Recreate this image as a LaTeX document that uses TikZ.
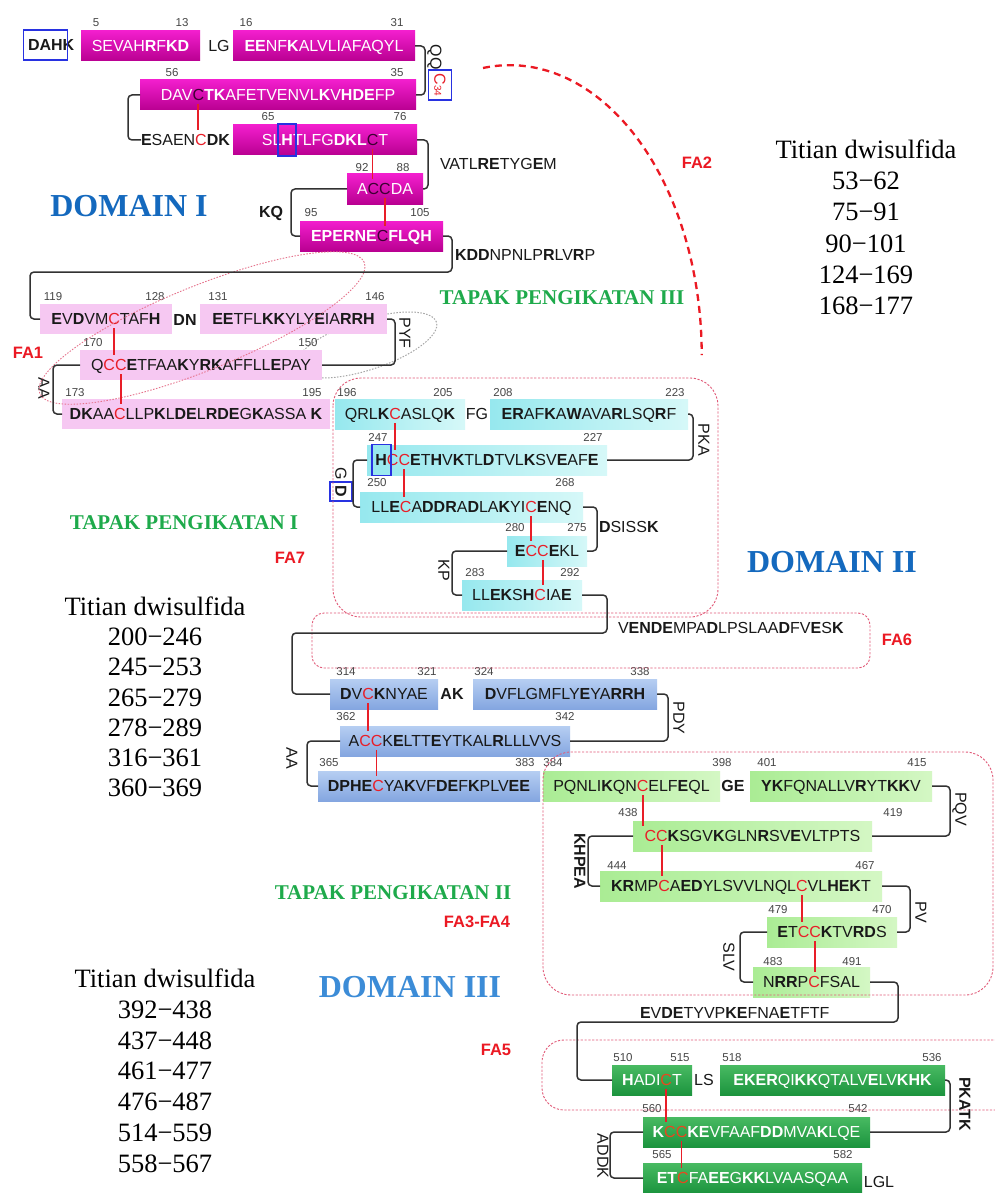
\documentclass[tikz,border=0pt]{standalone}
\usepackage{fontspec}
\setmainfont{Liberation Serif}
\setsansfont{Liberation Sans}
\usetikzlibrary{calc}
\definecolor{magT}{RGB}{242,30,205}
\definecolor{magB}{RGB}{185,0,145}
\definecolor{pinkF}{RGB}{246,200,242}
\definecolor{cyL}{RGB}{150,232,238}
\definecolor{cyR}{RGB}{214,248,248}
\definecolor{blT}{RGB}{182,206,242}
\definecolor{blB}{RGB}{132,166,224}
\definecolor{lgL}{RGB}{170,236,148}
\definecolor{lgR}{RGB}{212,247,196}
\definecolor{dgT}{RGB}{72,186,98}
\definecolor{dgB}{RGB}{28,148,62}
\definecolor{cred}{RGB}{232,30,40}
\definecolor{cdark}{RGB}{60,0,50}
\definecolor{corg}{RGB}{235,70,30}
\definecolor{connc}{RGB}{50,50,50}
\definecolor{numc}{RGB}{70,70,70}
\definecolor{hblue}{RGB}{40,50,225}
\definecolor{domc}{RGB}{20,105,190}
\definecolor{domcc}{RGB}{60,140,215}
\definecolor{tapc}{RGB}{30,170,75}
\definecolor{fac}{RGB}{235,25,35}
\definecolor{dashc}{RGB}{225,90,120}
\definecolor{seqc}{RGB}{25,25,25}
\newcommand\seqf{\sffamily\fontsize{16}{16}\selectfont}
\newcommand\bo[1]{\textbf{#1}}
\newcommand\Cr{\textcolor{cred}{C}}
\newcommand\Ck{\textcolor{cdark}{C}}
\newcommand\Co{\textcolor{corg}{C}}
\newlength\wfull\newlength\wpre\newlength\wlet
% measure: name, full text, prefix, letter -> global shift macro
\newcommand\meas[4]{\settowidth\wfull{\seqf #2}\settowidth\wpre{\seqf #3}\settowidth\wlet{\seqf #4}\expandafter\xdef\csname shX#1\endcsname{\the\dimexpr\wpre+\wlet/2-\wfull/2\relax}}
\newcommand\putc[2]{\coordinate (#1) at ([xshift=\csname shX#1\endcsname]#2.center);}
\newcommand\ssline[2]{\draw[ss] ($(#1)+(0,9)$) -- ($(#1 |- #2)+(0,-10)$);}
% sequences
\def\tMa{SEVAH\bo{R}F\bo{KD}}
\def\tMb{\bo{EE}NF\bo{K}ALVLIAFAQYL}
\def\tMc{DAV\Ck\bo{TK}AFETVENVL\bo{K}V\bo{HDE}FP}
\def\tMd{SL\bo{H}TLFG\bo{DKL}\Ck T}
\def\tMe{A\Ck\Ck DA}
\def\tMf{\bo{EPERNE}\Ck\bo{FLQH}}
\def\tEsa{\bo{E}SAEN\Cr\bo{DK}}
\def\tPa{\bo{E}V\bo{D}VM\Cr TAF\bo{H}}
\def\tPb{\bo{EE}TFL\bo{KK}YLY\bo{E}IA\bo{RRH}}
\def\tPc{Q\Cr\Cr\bo{E}TFAA\bo{K}Y\bo{RK}AFFLL\bo{E}PAY}
\def\tPd{\bo{DK}AA\Cr LLP\bo{K}L\bo{DE}L\bo{RDE}G\bo{K}ASSA \bo{K}}
\def\tCa{QRL\bo{K}\Cr ASLQ\bo{K}}
\def\tCb{\bo{ER}AF\bo{K}A\bo{W}AVA\bo{R}LSQ\bo{R}F}
\def\tCc{\bo{H}\Cr\Cr\bo{E}T\bo{H}V\bo{K}TL\bo{D}TVL\bo{K}SV\bo{E}AF\bo{E}}
\def\tCd{LL\bo{E}\Cr A\bo{DDR}A\bo{D}LA\bo{K}YI\Cr\bo{E}NQ}
\def\tCe{\bo{E}\Cr\Cr\bo{E}KL}
\def\tCf{LL\bo{EK}S\bo{H}\Cr IA\bo{E}}
\def\tBa{\bo{D}V\Cr\bo{K}NYAE}
\def\tBb{\bo{D}VFLGMFLY\bo{E}YA\bo{RRH}}
\def\tBc{A\Cr\Cr K\bo{E}LTT\bo{E}YTKAL\bo{R}LLLVVS}
\def\tBd{\bo{DPHE}\Cr YA\bo{K}VF\bo{DE}F\bo{K}PLV\bo{EE}}
\def\tGa{PQNLI\bo{K}QN\Cr ELF\bo{E}QL}
\def\tGb{\bo{YK}FQNALLV\bo{R}YT\bo{KK}V}
\def\tGc{\Cr\Cr\bo{K}SGV\bo{K}GLN\bo{R}SV\bo{E}VLTPTS}
\def\tGd{\bo{KR}MP\Cr A\bo{ED}YLSVVLNQL\Cr VL\bo{HEK}T}
\def\tGe{\bo{E}T\Cr\Cr\bo{K}TV\bo{RD}S}
\def\tGf{N\bo{RR}P\Cr FSAL}
\def\tDa{\bo{H}ADI\Co T}
\def\tDb{\bo{EKER}QI\bo{KK}QTALV\bo{E}LV\bo{KHK}}
\def\tDc{\bo{K}\Co\Co\bo{KE}VFAAF\bo{DD}MVA\bo{K}LQE}
\def\tDd{\bo{ET}\Co FA\bo{EE}G\bo{KK}LVAASQAA}
\tikzset{
 sq/.style={font=\seqf, text=seqc, inner sep=0pt, outer sep=0pt, minimum height=30pt, text height=11.5pt, text depth=0pt, anchor=west},
 mag/.style={sq, top color=magT, bottom color=magB, text=white},
 pnk/.style={sq, fill=pinkF},
 cyb/.style={sq, left color=cyL, right color=cyR},
 blb/.style={sq, top color=blT, bottom color=blB},
 lgb/.style={sq, left color=lgL, right color=lgR},
 dgb/.style={sq, top color=dgT, bottom color=dgB, text=white},
 lbl/.style={font=\seqf, text=seqc, inner sep=0pt, outer sep=0pt, text height=11.5pt, text depth=0pt},
 rlbl/.style={lbl, rotate=-90},
 num/.style={font=\sffamily\fontsize{11.5}{12}\selectfont, text=numc, inner sep=0pt},
 conn/.style={draw=connc, line width=1.5pt, rounded corners=4pt},
 ss/.style={draw=cred, line width=1.8pt},
 hbox/.style={draw=hblue, line width=1.6pt, inner sep=0pt},
 dom/.style={font=\bfseries\fontsize{32}{32}\selectfont, text=domc, inner sep=0pt},
 tap/.style={font=\bfseries\fontsize{21}{21}\selectfont, text=tapc, inner sep=0pt},
 falbl/.style={font=\sffamily\bfseries\fontsize{16.5}{17}\selectfont, text=fac, inner sep=0pt},
 tit/.style={font=\fontsize{26.5}{30}\selectfont, inner sep=0pt, text height=17pt, text depth=0pt},
 fabox/.style={draw=dashc, line width=0.9pt, dash pattern=on 2.2pt off 1.6pt},
}
\begin{document}
\meas{dahc}{\bo{DAHK}}{}{\bo{DAH}}
\meas{hA}{\tMd}{SL}{\bo{H}}
\meas{hB}{\tCc}{}{\bo{H}}
\meas{s1a}{\tMc}{DAV}{C}
\meas{s1b}{\tEsa}{\bo{E}SAEN}{C}
\meas{s2a}{\tMd}{SL\bo{H}TLFG\bo{DKL}}{C}
\meas{s2b}{\tMe}{A}{C}
\meas{s3a}{\tMe}{A\Ck}{C}
\meas{s3b}{\tMf}{\bo{EPERNE}}{C}
\meas{s4a}{\tPa}{\bo{E}V\bo{D}VM}{C}
\meas{s4b}{\tPc}{Q}{C}
\meas{s5a}{\tPc}{Q\Cr}{C}
\meas{s5b}{\tPd}{\bo{DK}AA}{C}
\meas{s6a}{\tCa}{QRL\bo{K}}{C}
\meas{s6b}{\tCc}{\bo{H}}{C}
\meas{s7a}{\tCc}{\bo{H}\Cr}{C}
\meas{s7b}{\tCd}{LL\bo{E}}{C}
\meas{s8a}{\tCd}{LL\bo{E}\Cr A\bo{DDR}A\bo{D}LA\bo{K}YI}{C}
\meas{s8b}{\tCe}{\bo{E}}{C}
\meas{s9a}{\tCe}{\bo{E}\Cr}{C}
\meas{s9b}{\tCf}{LL\bo{EK}S\bo{H}}{C}
\meas{s10a}{\tBa}{\bo{D}V}{C}
\meas{s10b}{\tBc}{A}{C}
\meas{s11a}{\tBc}{A\Cr}{C}
\meas{s11b}{\tBd}{\bo{DPHE}}{C}
\meas{s12a}{\tGa}{PQNLI\bo{K}QN}{C}
\meas{s12b}{\tGc}{}{C}
\meas{s13a}{\tGc}{\Cr}{C}
\meas{s13b}{\tGd}{\bo{KR}MP}{C}
\meas{s14a}{\tGd}{\bo{KR}MP\Cr A\bo{ED}YLSVVLNQL}{C}
\meas{s14b}{\tGe}{\bo{E}T}{C}
\meas{s15a}{\tGe}{\bo{E}T\Cr}{C}
\meas{s15b}{\tGf}{N\bo{RR}P}{C}
\meas{s16a}{\tDa}{\bo{H}ADI}{C}
\meas{s16b}{\tDc}{\bo{K}}{C}
\meas{s17a}{\tDc}{\bo{K}\Co}{C}
\meas{s17b}{\tDd}{\bo{ET}}{C}
\begin{tikzpicture}[x=1pt,y=-1pt]
\useasboundingbox (0,0) rectangle (995,1193);
\fill[white] (0,0) rectangle (995,1193);
% gray dotted ellipse (behind boxes)
\draw[draw=gray!70, line width=1pt, dash pattern=on 1.5pt off 1.5pt, rotate around={18:(366,345)}] (366,345) ellipse [x radius=74pt, y radius=25pt];
% ---------- Domain I ----------
\node[lbl, anchor=west] (dahk) at (28,45) {\bo{DAHK}};
\putc{dahc}{dahk}
\node[hbox, minimum width=44pt, minimum height=30pt] (dahbox) at (dahc) {};
\node[mag, minimum width=119pt] (m1) at (81,46) {\tMa};
\node[lbl] (lg) at (219,46) {LG};
\node[mag, minimum width=182pt] (m2) at (233,46) {\tMb};
\node[rlbl] (qq) at (436,57) {QQ};
\node[hbox, rotate=-90, minimum width=30pt, minimum height=23pt, font=\seqf, text=cred, text height=11.5pt, text depth=0pt] (c34) at (440,85) {C{\fontsize{10}{10}\selectfont 34}};
\node[mag, minimum width=276pt] (m3) at (140,95) {\tMc};
\node[lbl, anchor=west] (esa) at (141,140) {\tEsa};
\node[mag, minimum width=184pt] (m4) at (233,140) {\tMd};
\node[lbl, anchor=west] (vat) at (440,164) {VATL\bo{RE}TYG\bo{E}M};
\node[mag, minimum width=76pt] (m5) at (347,189) {\tMe};
\node[lbl] (kq) at (271,212) {\bo{KQ}};
\node[mag, minimum width=143pt] (m6) at (300,236) {\tMf};
\node[lbl, anchor=west] (kdd) at (455,255) {\bo{KDD}NPNLP\bo{R}LV\bo{R}P};
% pink
\node[pnk, minimum width=132pt] (p1) at (40,319) {\tPa};
\node[lbl] (dn) at (185,320) {\bo{DN}};
\node[pnk, minimum width=187pt] (p2) at (200,319) {\tPb};
\node[rlbl] (pyf) at (405,333) {PYF};
\node[pnk, minimum width=242pt] (p3) at (80,365) {\tPc};
\node[rlbl] (aa1) at (44,388) {AA};
\node[pnk, minimum width=268pt] (p4) at (62,414) {\tPd};
% ---------- Domain II ----------
\node[cyb, minimum width=130pt] (c1) at (335,414) {\tCa};
\node[lbl] (fg) at (477,414) {FG};
\node[cyb, minimum width=198pt] (c2) at (490,414) {\tCb};
\node[rlbl] (pka) at (704,440) {PKA};
\node[cyb, minimum width=240pt] (c3) at (367,460) {\tCc};
\node[rlbl] (gdg) at (341,474) {G};
\node[rlbl, hbox, minimum width=19pt, minimum height=22pt] (gdd) at (341,491.5) {\bo{D}};
\node[cyb, minimum width=223pt] (c4) at (360,507) {\tCd};
\node[lbl, anchor=west] (dsi) at (599,527) {\bo{D}SISS\bo{K}};
\node[cyb, minimum width=80pt] (c5) at (507,551) {\tCe};
\node[rlbl] (kp) at (444,570) {KP};
\node[cyb, minimum width=120pt] (c6) at (462,595) {\tCf};
\node[lbl, anchor=west] (ven) at (618,628) {V\bo{ENDE}MPA\bo{D}LPSLAA\bo{D}FV\bo{E}S\bo{K}};
\node[blb, minimum width=108pt] (b1) at (330,694) {\tBa};
\node[lbl] (ak) at (452,694) {\bo{AK}};
\node[blb, minimum width=184pt] (b2) at (473,694) {\tBb};
\node[rlbl] (pdy) at (679,718) {PDY};
\node[blb, minimum width=230pt] (b3) at (340,741) {\tBc};
\node[rlbl] (aa2) at (292,758) {AA};
\node[blb, minimum width=222pt] (b4) at (318,786) {\tBd};
% ---------- Domain III ----------
\node[lgb, minimum width=177pt] (g1) at (543,786) {\tGa};
\node[lbl] (ge) at (733,786) {\bo{GE}};
\node[lgb, minimum width=182pt] (g2) at (750,786) {\tGb};
\node[rlbl] (pqv) at (961,809) {PQV};
\node[lgb, minimum width=239pt] (g3) at (633,836) {\tGc};
\node[rlbl] (khp) at (580,861) {\bo{KHPEA}};
\node[lgb, minimum width=282pt] (g4) at (600,886) {\tGd};
\node[rlbl] (pv) at (921,912) {PV};
\node[lgb, minimum width=130pt] (g5) at (767,932) {\tGe};
\node[rlbl] (slv) at (729,957) {SLV};
\node[lgb, minimum width=117pt] (g6) at (753,982) {\tGf};
\node[lbl, anchor=west] (evd) at (640,1013) {\bo{E}V\bo{DE}TYVP\bo{KE}FNA\bo{E}TFTF};
\node[dgb, minimum width=80pt] (d1) at (612,1080) {\tDa};
\node[lbl] (ls) at (704,1080) {LS};
\node[dgb, minimum width=225pt] (d2) at (720,1080) {\tDb};
\node[rlbl] (pkatk) at (965,1104) {\bo{PKATK}};
\node[dgb, minimum width=227pt] (d3) at (643,1132) {\tDc};
\node[rlbl] (addk) at (603,1156) {ADDK};
\node[dgb, minimum width=219pt] (d4) at (643,1178) {\tDd};
\node[lbl] (lgl) at (879,1182) {LGL};
% ---------- residue numbers ----------
\foreach \n/\x/\y in {5/96/23, 13/182/23, 16/246/23, 31/397/23, 56/172/73, 35/397/73, 65/268/117, 76/400/117, 92/362/168, 88/403/168, 95/311/213, 105/420/213, 119/53/297, 128/155/297, 131/218/297, 146/375/297, 170/93/343, 150/308/343, 173/75/393, 195/312/393, 196/347/393, 205/443/393, 208/503/393, 223/675/393, 247/378/437, 227/593/437, 250/377/483, 268/565/483, 280/515/528, 275/577/528, 283/475/573, 292/570/573, 314/346/672, 321/427/672, 324/484/672, 338/640/672, 362/346/717, 342/565/717, 365/329/763, 383/525/763, 384/553/763, 398/722/763, 401/767/763, 415/917/763, 438/628/813, 419/893/813, 444/617/866, 467/865/866, 479/778/910, 470/882/910, 483/773/962, 491/852/962, 510/623/1058, 515/680/1058, 518/732/1058, 536/932/1058, 560/652/1109, 542/858/1109, 565/662/1155, 582/843/1155}
  \node[num] (n\n) at (\x,\y) {\n};
% ---------- titles ----------
\node[dom] (dI) at (129,206) {DOMAIN I};
\node[dom] (dII) at (832,562) {DOMAIN II};
\node[dom, text=domcc] (dIII) at (410,987) {DOMAIN III};
\node[tap] (t3) at (562,298) {TAPAK PENGIKATAN III};
\node[tap] (t1) at (184,523) {TAPAK PENGIKATAN I};
\node[tap] (t2) at (393,893) {TAPAK PENGIKATAN II};
\node[falbl] (fa1) at (28,353) {FA1};
\node[falbl] (fa2) at (697,163) {FA2};
\node[falbl] (fa7) at (290,558) {FA7};
\node[falbl] (fa6) at (897,640) {FA6};
\node[falbl] (fa34) at (477,922) {FA3-FA4};
\node[falbl] (fa5) at (496,1050) {FA5};
\foreach \t [count=\i] in {Titian dwisulfida,53−62,75−91,90−101,124−169,168−177}
  \node[tit] (ta\i) at (866,{150+31.2*(\i-1)}) {\t};
\foreach \t [count=\i] in {Titian dwisulfida,200−246,245−253,265−279,278−289,316−361,360−369}
  \node[tit] (tb\i) at (155,{607+30.2*(\i-1)}) {\t};
\foreach \t [count=\i] in {Titian dwisulfida,392−438,437−448,461−477,476−487,514−559,558−567}
  \node[tit] (tc\i) at (165,{979+30.8*(\i-1)}) {\t};
% ---------- FA regions ----------
\draw[draw=dashc!85, line width=0.9pt, dash pattern=on 1.5pt off 1.5pt, rotate around={22:(202,328)}] (202,328) ellipse [x radius=175pt, y radius=42pt];
\draw[fabox, rounded corners=28pt] (333,378) rectangle (718,617);
\draw[fabox, rounded corners=12pt] (312,613) rectangle (870,668);
\draw[fabox, rounded corners=28pt] (543,752) rectangle (993,995);
\draw[fabox, rounded corners=22pt] (542,1040) rectangle (1025,1110);
\draw[draw=fac, line width=2.3pt, dash pattern=on 7pt off 5pt] (483,68) arc[start angle=98, end angle=0, x radius=192pt, y radius=290pt];
% ---------- chain connectors ----------
\draw[conn] (m2.east) -- ++(10,0) |- (m3.east);
\draw[conn] (m3.west) -- ++(-12,0) |- (esa.west);
\draw[conn] (m4.east) -- ++(11,0) |- (m5.east);
\draw[conn] (m5.west) -- ++(-56,0) |- (m6.west);
\coordinate (k1) at (452,272); \coordinate (k2) at (30,272);
\draw[conn] (m6.east) -| (k1) -- (k2) |- (p1.west);
\draw[conn] (p2.east) -- ++(8,0) |- (p3.east);
\draw[conn] (p3.west) -- ++(-27,0) |- (p4.west);
\draw[conn] (c2.east) -- ++(5,0) |- (c3.east);
\draw[conn] (c3.west) -- ++(-14,0) |- (c4.west);
\draw[conn] (c4.east) -- ++(14,0) |- (c5.east);
\draw[conn] (c5.west) -- ++(-55,0) |- (c6.west);
\coordinate (k3) at (607,633); \coordinate (k4) at (292,633);
\draw[conn] (c6.east) -| (k3) -- (k4) |- (b1.west);
\draw[conn] (b2.east) -- ++(11,0) |- (b3.east);
\draw[conn] (b3.west) -- ++(-33,0) |- (b4.west);
\draw[conn] (g2.east) -- ++(18,0) |- (g3.east);
\draw[conn] (g3.west) -- ++(-45,0) |- (g4.west);
\draw[conn] (g4.east) -- ++(28,0) |- (g5.east);
\draw[conn] (g5.west) -- ++(-27,0) |- (g6.west);
\coordinate (k5) at (898,1022); \coordinate (k6) at (577,1022);
\draw[conn] (g6.east) -| (k5) -- (k6) |- (d1.west);
\draw[conn] (d2.east) -- ++(5,0) |- (d3.east);
\draw[conn] (d3.west) -- ++(-33,0) |- (d4.west);
% ---------- disulfide bridges ----------
\putc{s1a}{m3}\putc{s1b}{esa}
\putc{s2a}{m4}\putc{s2b}{m5}
\putc{s3a}{m5}\putc{s3b}{m6}
\putc{s4a}{p1}\putc{s4b}{p3}
\putc{s5a}{p3}\putc{s5b}{p4}
\putc{s6a}{c1}\putc{s6b}{c3}
\putc{s7a}{c3}\putc{s7b}{c4}
\putc{s8a}{c4}\putc{s8b}{c5}
\putc{s9a}{c5}\putc{s9b}{c6}
\putc{s10a}{b1}\putc{s10b}{b3}
\putc{s11a}{b3}\putc{s11b}{b4}
\putc{s12a}{g1}\putc{s12b}{g3}
\putc{s13a}{g3}\putc{s13b}{g4}
\putc{s14a}{g4}\putc{s14b}{g5}
\putc{s15a}{g5}\putc{s15b}{g6}
\putc{s16a}{d1}\putc{s16b}{d3}
\putc{s17a}{d3}\putc{s17b}{d4}
\foreach \k in {1,...,17} {\ssline{s\k a}{s\k b}}
% ---------- highlighted residues ----------
\putc{hA}{m4}
\node[hbox, minimum width=18pt, minimum height=32pt] (hboxA) at (hA) {};
\putc{hB}{c3}
\node[hbox, minimum width=19pt, minimum height=31pt] (hboxB) at (hB) {};
\end{tikzpicture}
\end{document}
